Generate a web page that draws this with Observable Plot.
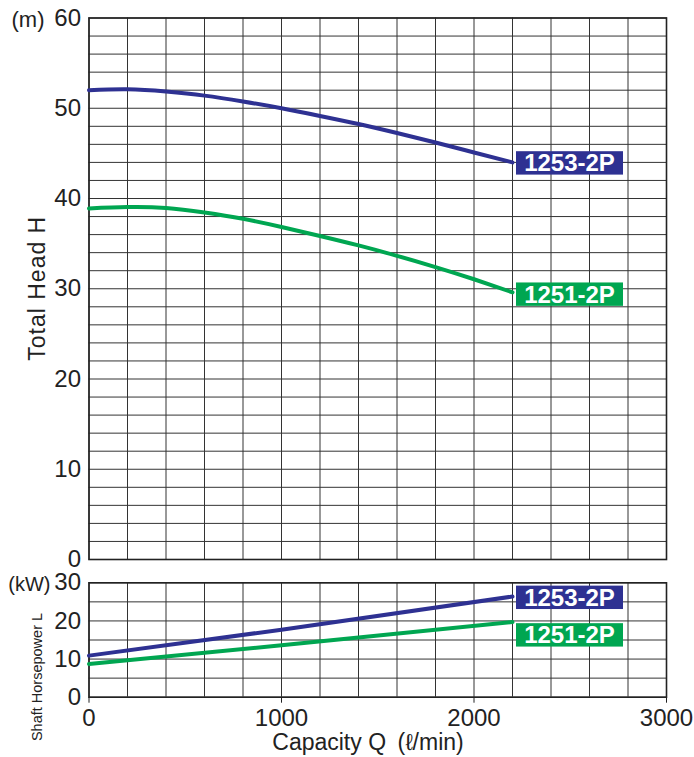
<!DOCTYPE html>
<html><head><meta charset="utf-8">
<script src="https://cdn.jsdelivr.net/npm/d3@7"></script>
<script src="https://cdn.jsdelivr.net/npm/@observablehq/plot@0.6"></script>
<style>body{margin:0;background:#fff;} #chart svg{display:block;overflow:visible;}</style>
</head><body><div id="chart"></div>
<script>
// ---- data ----
const capacity = [0, 200, 400, 600, 800, 1000, 1200, 1400, 1600, 1800, 2000, 2200];
const head1253 = [52.0, 52.1, 51.85, 51.4, 50.75, 50.0, 49.15, 48.25, 47.25, 46.2, 45.1, 44.0];
const head1251 = [38.9, 39.05, 38.95, 38.45, 37.75, 36.85, 35.85, 34.8, 33.65, 32.4, 31.05, 29.6];
const powerCapacity = [0, 1000, 2200];
const power1253 = [10.9, 17.7, 26.4];
const power1251 = [8.7, 13.6, 19.7];
const models = ["1253-2P", "1251-2P"];
const colors = ["#2e3192", "#00a651"];
const xTicks = [0, 1000, 2000, 3000];
const headTicks = [0, 10, 20, 30, 40, 50, 60];
const powerTicks = [0, 10, 20, 30];

const FONT = "'Liberation Sans', Arial, Helvetica, sans-serif";
const GRID = "#333";

const headRows = [];
capacity.forEach((q, i) => {
  headRows.push({q, v: head1253[i], model: models[0]});
  headRows.push({q, v: head1251[i], model: models[1]});
});
const powerRows = [];
powerCapacity.forEach((q, i) => {
  powerRows.push({q, v: power1253[i], model: models[0]});
  powerRows.push({q, v: power1251[i], model: models[1]});
});

function endLabels(seriesY, seriesX, offsets) {
  return (index, scales, values, dims) => {
    const g = d3.create("svg:g");
    models.forEach((name, i) => {
      const ys = seriesY[i];
      const x0 = scales.x(seriesX[seriesX.length - 1]) + 4;
      const yc = scales.y(ys[ys.length - 1]) + offsets[i];
      g.append("rect").attr("x", x0).attr("y", yc - 11.7)
        .attr("width", 107).attr("height", 23.4).attr("fill", colors[i]);
      g.append("text").attr("x", x0 + 53.5).attr("y", yc)
        .attr("text-anchor", "middle").attr("dominant-baseline", "central")
        .attr("font-family", FONT).attr("font-weight", "bold")
        .attr("font-size", 24).attr("fill", "#fff").text(name);
    });
    return g.node();
  };
}

function annotate(makeItems) {
  return (index, scales, values, dims) => {
    const g = d3.create("svg:g").attr("font-family", FONT).attr("fill", "#222");
    for (const it of makeItems(dims)) {
      const t = g.append("text").attr("x", it.x).attr("y", it.y)
        .attr("font-size", it.size).attr("text-anchor", it.anchor || "middle")
        .attr("dominant-baseline", "central").text(it.text);
      if (it.spacing) t.attr("letter-spacing", it.spacing);
      if (it.rotate) t.attr("transform", `rotate(${it.rotate},${it.x},${it.y})`);
    }
    return g.node();
  };
}

const headChart = Plot.plot({
  width: 694, height: 571,
  marginTop: 17.5, marginBottom: 12, marginLeft: 88.5, marginRight: 28,
  style: {fontFamily: FONT, color: "#222", background: "#fff", overflow: "visible"},
  x: {domain: [0, 3000], axis: null},
  y: {domain: [0, 60]},
  color: {domain: models, range: colors},
  marks: [
    Plot.ruleX(d3.range(0, 3001, 200), {stroke: GRID, strokeWidth: 1}),
    Plot.ruleY(d3.range(0, 61, 2), {stroke: GRID, strokeWidth: 1}),
    Plot.frame({stroke: "#222", strokeWidth: 1.6}),
    Plot.axisY(headTicks, {tickSize: 0, tickPadding: 8, fontSize: 24, label: null}),
    Plot.line(headRows, {x: "q", y: "v", z: "model", stroke: "model", strokeWidth: 4, curve: "natural"}),
    endLabels([head1253, head1251], capacity, [1, 2.3]),
    annotate(d => [
      {x: d.marginLeft - 44, y: d.marginTop + 2, size: 22, anchor: "end", text: "(m)"},
      {x: d.marginLeft - 52, y: (d.marginTop + d.height - d.marginBottom) / 2, size: 23, rotate: -90, spacing: 1, text: "Total Head H"}
    ])
  ]
});

const powerChart = Plot.plot({
  width: 694, height: 186,
  marginTop: 11.3, marginBottom: 60.3, marginLeft: 88.5, marginRight: 28,
  style: {fontFamily: FONT, color: "#222", background: "#fff", overflow: "visible"},
  x: {domain: [0, 3000]},
  y: {domain: [0, 30]},
  color: {domain: models, range: colors},
  marks: [
    Plot.ruleX(d3.range(0, 3001, 200), {stroke: GRID, strokeWidth: 1}),
    Plot.ruleY(d3.range(0, 31, 5), {stroke: GRID, strokeWidth: 1}),
    Plot.frame({stroke: "#222", strokeWidth: 1.6}),
    Plot.axisY(powerTicks, {tickSize: 0, tickPadding: 8, fontSize: 24, label: null}),
    Plot.axisX(xTicks, {tickSize: 6, tickPadding: 6, fontSize: 24, label: null, tickFormat: d3.format("d")}),
    Plot.line(powerRows, {x: "q", y: "v", z: "model", stroke: "model", strokeWidth: 4}),
    endLabels([power1253, power1251], powerCapacity, [1.3, 13.3]),
    annotate(d => [
      {x: d.marginLeft - 38, y: d.marginTop + 2, size: 20, anchor: "end", text: "(kW)"},
      {x: d.marginLeft - 52, y: 106, size: 14.5, rotate: -90, text: "Shaft Horsepower L"},
      {x: 368, y: 171, size: 23, text: "Capacity Q\u2002(\u2113/min)"}
    ])
  ]
});

document.getElementById("chart").append(headChart, powerChart);
</script>
</body></html>
